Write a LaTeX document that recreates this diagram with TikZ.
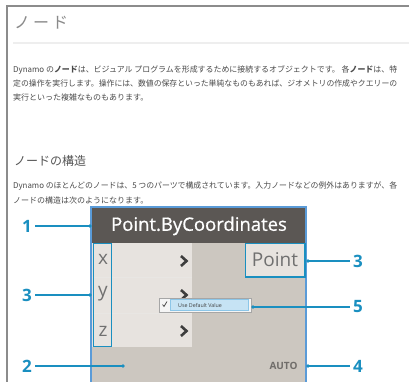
\documentclass[tikz,border=0pt]{standalone}
\usepackage{fontspec}
\setmainfont{Open Sans}
\newfontfamily\jp{Noto Sans CJK JP}
\newfontfamily\os{Open Sans}
\newfontfamily\osmed[FakeBold=0.7]{Open Sans}
\newcommand{\fitline}[2]{\resizebox{#1}{\height}{#2}}
\definecolor{framegray}{HTML}{8C8C8C}
\definecolor{sepgray}{HTML}{EEEEEE}
\definecolor{titlegray}{HTML}{8A8A8A}
\definecolor{textgray}{HTML}{4A4A4A}
\definecolor{headgray}{HTML}{555555}
\definecolor{nodeblue}{HTML}{5A9BD8}
\definecolor{callteal}{HTML}{1A8FC0}
\definecolor{titlebar}{HTML}{5B5754}
\definecolor{bodygray}{HTML}{CCC7C0}
\definecolor{portlight}{HTML}{E7E3DF}
\definecolor{labelgray}{HTML}{707070}
\definecolor{chevgray}{HTML}{3E3E3E}
\definecolor{menuhl}{HTML}{C6E3F4}
\definecolor{menuhlb}{HTML}{8CC6E8}
\tikzset{
  para/.style={anchor=base west, inner sep=0pt, text=textgray, font=\jp\fontsize{8}{8}\selectfont},
  num/.style={text=callteal, font=\os\bfseries\fontsize{17}{17}\selectfont, inner sep=1pt},
  dot/.style={circle, fill=callteal, inner sep=0pt, minimum size=3.6pt},
  callout/.style={callteal, line width=1.6pt},
  portlabel/.style={text=labelgray, font=\os\fontsize{19}{19}\selectfont, inner sep=0pt},
  chev/.style={chevgray, line width=2.6pt},
}
\begin{document}
\begin{tikzpicture}[x=1pt,y=-1pt]
\useasboundingbox (0,0) rectangle (409,382);
\fill[white] (0,0) rectangle (409,382);
% page frame
\draw[framegray, line width=2pt] (6.5,384) -- (6.5,6.5) -- (411,6.5);
\draw[sepgray, line width=1.2pt] (13,43) -- (411,43);
% title
\node[anchor=west, inner sep=0pt, text=titlegray, font=\jp\fontsize{16}{16}\selectfont] (title) at (14,23) {ノ\hspace{3pt}ー\hspace{3pt}ド};
% paragraph 1
\node[para] (p1) at (13,73) {\fitline{384pt}{Dynamo の{\bfseries ノード}は、ビジュアル プログラムを形成するために接続するオブジェクトです。 各{\bfseries ノード}は、特}};
\node[para] (p2) at (13,87) {\fitline{384pt}{定の操作を実行します。操作には、数値の保存といった単純なものもあれば、ジオメトリの作成やクエリーの}};
\node[para] (p3) at (13,101) {実行といった複雑なものもあります。};
% heading 2
\node[anchor=west, inner sep=0pt, text=headgray, font=\jp\fontsize{12}{12}\selectfont] (h2) at (14,161) {ノードの構造};
\node[para] (q1) at (13,189) {\fitline{384pt}{Dynamo のほとんどのノードは、5 つのパーツで構成されています。入力ノードなどの例外はありますが、各}};
\node[para] (q2) at (13,203) {ノードの構造は次のようになります。};
% node body
\fill[bodygray] (91,207) rectangle (306,386);
\fill[titlebar] (91,207) rectangle (306,243);
\fill[portlight] (92,243) rectangle (192,347);
\draw[white!55!bodygray, line width=0.8pt] (92,277.5) -- (192,277.5);
\draw[white!55!bodygray, line width=0.8pt] (92,313) -- (192,313);
\fill[portlight] (245,243) rectangle (305,277);
\draw[nodeblue, line width=2pt] (91,386) -- (91,207) -- (306,207) -- (306,386);
\node[text=white, font=\osmed\fontsize{18.5}{18.5}\selectfont, inner sep=0pt] (ntitle) at (199,226) {Point.ByCoordinates};
% port label outline
\draw[callteal, line width=1.4pt] (93.5,243.5) rectangle (111.5,346.5);
\draw[callteal, line width=1.4pt] (245.5,243.5) rectangle (305,277);
\node[portlabel] (lx) at (103,259) {x};
\node[portlabel] (ly) at (103,294) {y};
\node[portlabel] (lz) at (103,331) {z};
\node[portlabel] (lout) at (275,260) {Point};
% chevrons
\draw[chev] (181,256) -- (186.5,261) -- (181,266);
\draw[chev] (181,290) -- (186.5,295) -- (181,300);
\draw[chev] (181,326) -- (186.5,331) -- (181,336);
% context menu
\fill[black!12] (160,299) rectangle (252,313);
\fill[white!96!black] (159,298) rectangle (251,312);
\draw[black!35, line width=0.4pt] (159,298) rectangle (251,312);
\fill[menuhl] (170,299.5) rectangle (248.5,310.5);
\draw[menuhlb, line width=0.5pt] (170,299.5) rectangle (248.5,310.5);
\draw[black!75, line width=0.7pt] (162.5,304.5) -- (164,306.5) -- (167,301.5);
\node[anchor=west, inner sep=0pt, text=black!75, font=\os\fontsize{5.3}{5.3}\selectfont] (menu) at (178,305) {Use Default Value};
% AUTO
\node[text=black!45!bodygray, font=\os\bfseries\fontsize{10}{10}\selectfont, inner sep=0pt] (auto) at (283.5,366) {AUTO};
% callouts
\node[num] (n1) at (27,226) {1};
\node[num] (n3a) at (27,295) {3};
\node[num] (n2) at (27,366) {2};
\node[num] (n3b) at (358,261) {3};
\node[num] (n5) at (358,307) {5};
\node[num] (n4) at (358,366) {4};
\node[dot] (d1) at (90,226) {};
\node[dot] (d3a) at (90,295) {};
\node[dot] (d2) at (123,366) {};
\node[dot] (d3b) at (308,261) {};
\node[dot] (d5) at (253,307) {};
\node[dot] (d4) at (308,366) {};
\draw[callout] ([xshift=2pt]n1.east) -- (d1.center);
\draw[callout] ([xshift=2pt]n3a.east) -- (d3a.center);
\draw[callout] ([xshift=2pt]n2.east) -- (d2.center);
\draw[callout] (d3b.center) -- ([xshift=-2pt]n3b.west);
\draw[callout] (d5.center) -- ([xshift=-2pt]n5.west);
\draw[callout] (d4.center) -- ([xshift=-2pt]n4.west);
\end{tikzpicture}
\end{document}
